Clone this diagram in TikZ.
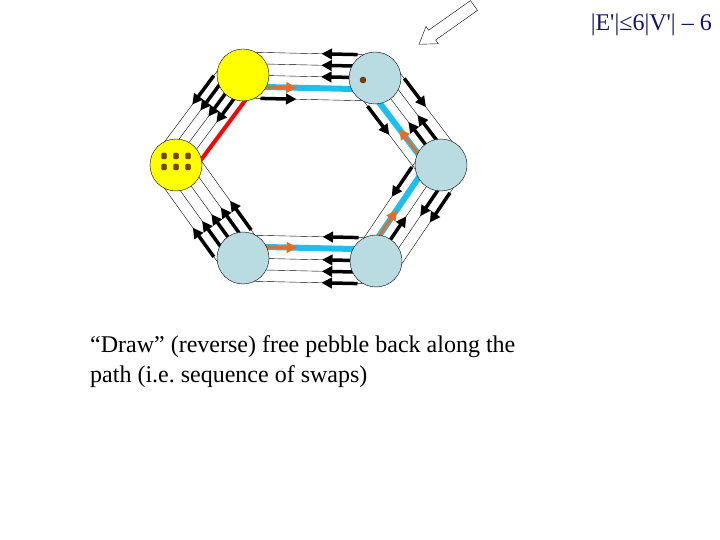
\documentclass[tikz,border=0pt]{standalone}
\usepackage{fontspec}
\setmainfont{Liberation Serif}
\usepackage{tikz}
\usetikzlibrary{calc, arrows.meta, backgrounds}
\definecolor{padyellow}{RGB}{255,255,0}
\definecolor{padblue}{RGB}{185,219,226}
\definecolor{routecyan}{RGB}{30,190,240}
\definecolor{swaporange}{RGB}{228,110,40}
\definecolor{pebblebrown}{RGB}{128,64,0}
\definecolor{titlenavy}{RGB}{20,20,100}
\tikzstyle{vertex} = [circle, draw, fill=padblue, minimum size=52pt, inner sep=0pt, thin]
\tikzstyle{heldvertex} = [vertex, fill=padyellow]
\tikzstyle{pebble} = [rectangle, draw=pebblebrown!60!black, fill=pebblebrown, rounded corners=1.2pt, minimum width=5pt, minimum height=6pt, inner sep=0pt]
\tikzstyle{loose} = [circle, draw=pebblebrown!60!black, fill=pebblebrown, minimum size=6pt, inner sep=0pt]
\tikzstyle{wire} = [thin]
\tikzstyle{push} = [->, line width=3.5pt]
\tikzstyle{swap} = [->, line width=3pt, draw=swaporange, fill=swaporange]
\tikzstyle{route} = [line width=6pt, draw=routecyan]
\tikzstyle{added} = [line width=4pt, draw=red]
\tikzstyle{hint} = [thin, fill=white]

\begin{document}
\begin{tikzpicture}[x=1pt, y=-1pt, >={Triangle[length=10.5pt, width=10.5pt]}]
    \useasboundingbox (0,0) rectangle (720,540);

        % nodes
        \node (a) [heldvertex] at (243,75) {};
        \node (b) [vertex] at (375,78) {};
        \node (c) [vertex] at (441,165) {};
        \node (d) [vertex] at (376,261) {};
        \node (e) [vertex] at (243,258) {};
        \node (f) [heldvertex] at (176,165) {};

        % pebbles
        \foreach \i/\x/\y in {1/164/156, 2/176/156, 3/188/156, 4/164/167, 5/176/167, 6/188/167}
            \node (p\i) [pebble] at (\x,\y) {};
        \node (free) [loose] at (363,80) {};

        % edges
        \begin{scope}[on background layer]
            \foreach \u/\v in {a/b, b/c, c/d, d/e, e/f}
                \foreach \off in {-23,-11.5,0,11.5,23}
                    \draw [wire] ($(\u)!\off pt!90:(\v)$) -- ($(\v)!\off pt!-90:(\u)$);
            \foreach \off in {23,13,3,-7}
                \draw [wire] ($(f)!\off pt!90:(a)$) -- ($(a)!\off pt!-90:(f)$);
            \foreach \u/\v in {a/b, b/c, c/d, d/e}
                \draw [route] ($(\u)!-11.5pt!90:(\v)$) -- ($(\v)!-11.5pt!-90:(\u)$);
            \draw [added] ($(f)!-17pt!90:(a)$) -- ($(a)!-17pt!-90:(f)$);
            \foreach \u/\v/\off/\p/\q/\sty in {a/b/23/v/u/push, a/b/11.5/v/u/push, a/b/0/v/u/push, a/b/-11.5/u/v/swap, a/b/-23/u/v/push,
                    b/c/23/u/v/push, b/c/11.5/v/u/push, b/c/0/v/u/push, b/c/-11.5/v/u/swap, b/c/-23/u/v/push,
                    c/d/23/u/v/push, c/d/11.5/u/v/push, c/d/0/v/u/push, c/d/-11.5/v/u/swap, c/d/-23/u/v/push,
                    d/e/23/u/v/push, d/e/11.5/u/v/push, d/e/0/u/v/push, d/e/-11.5/v/u/swap, d/e/-23/u/v/push,
                    e/f/23/u/v/push, e/f/11.5/u/v/push, e/f/0/u/v/push, e/f/-11.5/u/v/push, e/f/-23/u/v/push,
                    f/a/23/v/u/push, f/a/13/v/u/push, f/a/3/v/u/push, f/a/-7/v/u/push}
            {
                \coordinate (su) at ($(\u)!\off pt!90:(\v)$);
                \coordinate (sv) at ($(\v)!\off pt!-90:(\u)$);
                \draw [\sty] ($(s\p)!18pt!(s\q)$) -- ($(s\p)!54pt!(s\q)$);
            }
        \end{scope}

        % pointer
        \draw [hint] (470.5,0.6) -- (477.5,10.4) -- (435.6,40) -- (438.2,43.7) -- (419,44.3) -- (426,26.5) -- (428.6,30.2) -- cycle;

        % texts
        \node (bound) [anchor=base east, inner sep=0pt, text=titlenavy, font=\fontsize{24}{29}\selectfont] at (712,31) {|E\textquotesingle|≤6|V\textquotesingle| -- 6};
        \node (note) [anchor=base west, inner sep=0pt, align=left, font=\fontsize{24}{30}\selectfont] at (90,382) {“Draw” (reverse) free pebble back along the\\path (i.e.\ sequence of swaps)};

    \end{tikzpicture}
\end{document}
